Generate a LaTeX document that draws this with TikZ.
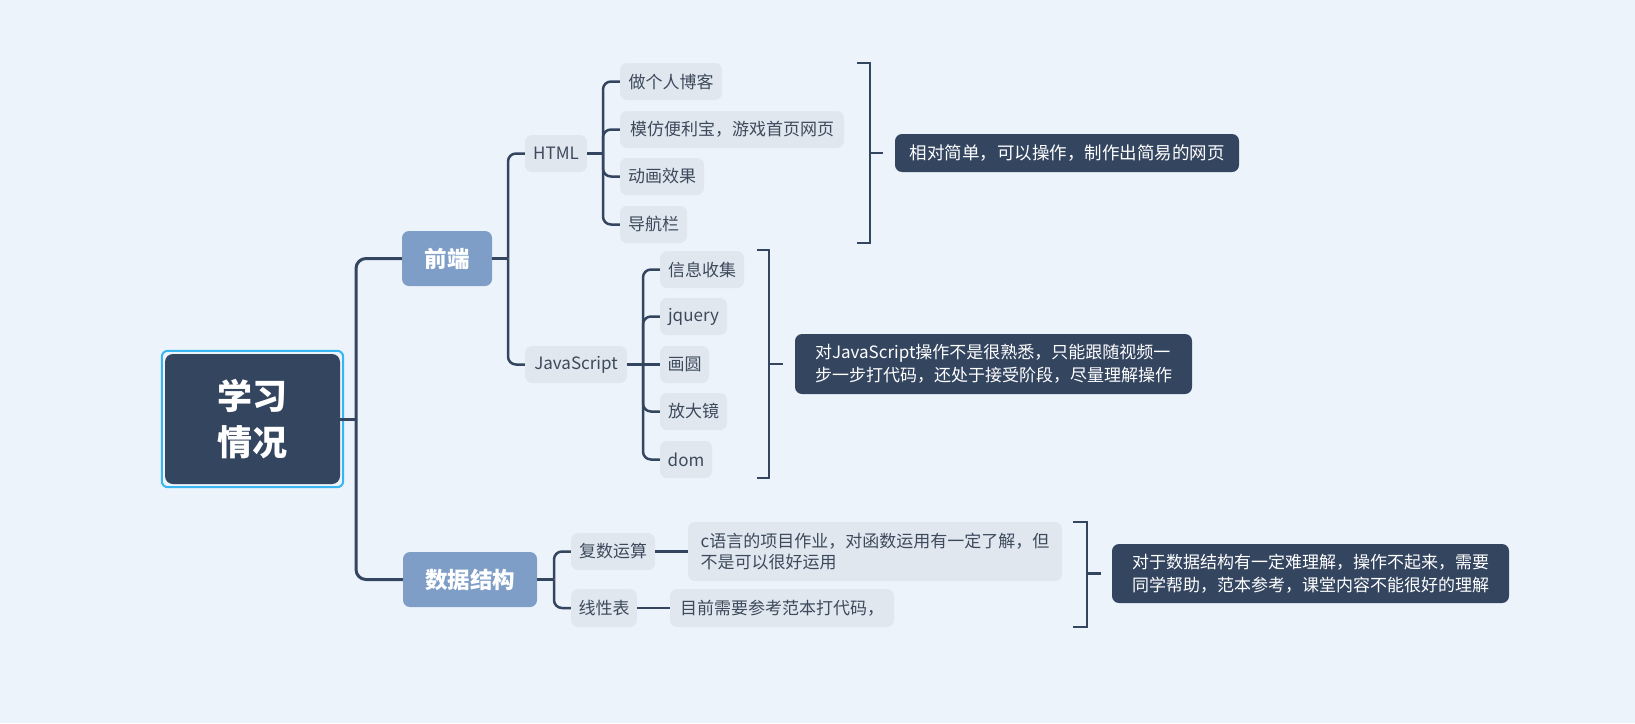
\documentclass[tikz,border=0pt]{standalone}
\usepackage{fontspec}
\setmainfont{Noto Sans CJK SC}
\definecolor{bgc}{HTML}{EDF3FA}
\definecolor{dark}{HTML}{344560}
\definecolor{mainbg}{HTML}{7F9EC7}
\definecolor{leafbg}{HTML}{E1E7EF}
\definecolor{leaftext}{HTML}{3D4A5C}
\definecolor{rootblue}{HTML}{38B6F2}
\begin{document}
\begin{tikzpicture}[x=1pt,y=-1pt,
  box/.style={inner sep=0pt, rounded corners=7pt, align=center},
  leaf/.style={box, fill=leafbg, text=leaftext, minimum height=37pt, font=\fontsize{17}{21}\selectfont},
  mainbr/.style={box, fill=mainbg, text=white, minimum height=55pt, font=\fontsize{22.5}{26}\selectfont\bfseries},
  summ/.style={box, fill=dark, text=white, font=\fontsize{17}{23}\selectfont, align=left},
  conn/.style={draw=dark, line width=2.5pt, rounded corners=8pt},
  trunk/.style={draw=dark, line width=3pt, rounded corners=10pt},
  brk/.style={draw=dark, line width=2.5pt},
]
\fill[bgc] (0,0) rectangle (1635,723);
\useasboundingbox (0,0) rectangle (1635,723);

% root
\node[box, fill=dark, text=white, rounded corners=8pt, minimum width=175pt, minimum height=130pt, font=\fontsize{35}{46}\selectfont\bfseries] (root) at (252.5,419) {学习\\情况};
\draw[draw=rootblue, line width=2pt, rounded corners=6pt] ([shift={(-3,-3)}]root.north west) rectangle ([shift={(3,3)}]root.south east);

% main branches
\node[mainbr, minimum width=90pt] (qd) at (447,258.5) {前端};
\node[mainbr, minimum width=134pt] (sj) at (470,579.5) {数据结构};

% second level
\node[leaf, minimum width=62pt] (html) at (556,153.5) {HTML};
\node[leaf, minimum width=102pt] (js) at (576,364.5) {JavaScript};
\node[leaf, minimum width=84pt] (f1) at (613,551.5) {复数运算};
\node[leaf, minimum width=66pt, minimum height=38pt] (f2) at (604,608) {线性表};

% HTML leaves
\node[leaf, minimum width=102pt] (l1) at (671,81.5) {做个人博客};
\node[leaf, minimum width=224pt] (l2) at (732,129.5) {模仿便利宝，游戏首页网页};
\node[leaf, minimum width=84pt] (l3) at (662,176.5) {动画效果};
\node[leaf, minimum width=67pt] (l4) at (653.5,224.5) {导航栏};

% JS leaves
\node[leaf, minimum width=84pt] (j1) at (702,269.5) {信息收集};
\node[leaf, minimum width=67pt] (j2) at (693.5,316.5) {jquery};
\node[leaf, minimum width=49pt] (j3) at (684.5,364.5) {画圆};
\node[leaf, minimum width=67pt] (j4) at (693.5,411.5) {放大镜};
\node[leaf, minimum width=52pt] (j5) at (686,459.5) {dom};

% data structure leaves
\node[leaf, align=left, minimum width=374pt, minimum height=59pt] (c1) at (875,551.5) {c语言的项目作业，对函数运用有一定了解，但\\不是可以很好运用};
\node[leaf, minimum width=224pt, minimum height=38pt] (c2) at (782,608) {目前需要参考范本打代码，};

% summaries
\node[summ, minimum width=344pt, minimum height=38pt, font=\fontsize{17.5}{23}\selectfont] (s1) at (1067,153) {相对简单，可以操作，制作出简易的网页};
\node[summ, minimum width=397pt, minimum height=60pt] (s2) at (993.5,364) {对JavaScript操作不是很熟悉，只能跟随视频一\\步一步打代码，还处于接受阶段，尽量理解操作};
\node[summ, minimum width=397pt, minimum height=59pt] (s3) at (1310.5,573.5) {对于数据结构有一定难理解，操作不起来，需要\\同学帮助，范本参考，课堂内容不能很好的理解};

% trunk
\coordinate (t0) at (356,419);
\draw[trunk] (root.east) -- (t0);
\draw[trunk] (t0) |- (qd.west);
\draw[trunk] (t0) |- (sj.west);

% 前端 branch
\coordinate (t1) at (508,258.5);
\draw[conn] (qd.east) -- (t1);
\draw[conn] (t1) |- (html.west);
\draw[conn] (t1) |- (js.west);

% HTML branch
\coordinate (t2) at (603,153.5);
\draw[conn] (html.east) -- (t2);
\foreach \n in {l1,l2,l3,l4} \draw[conn] (t2) |- (\n.west);

% JS branch
\coordinate (t3) at (643,364.5);
\draw[conn] (js.east) -- (t3);
\foreach \n in {j1,j2,j4,j5} \draw[conn] (t3) |- (\n.west);
\draw[conn] (t3) -- (j3.west);

% data structure branch
\coordinate (t4) at (554,579.5);
\draw[conn] (sj.east) -- (t4);
\draw[conn] (t4) |- (f1.west);
\draw[conn] (t4) |- (f2.west);
\draw[conn] (f1.east) -- (c1.west);
\draw[conn] (f2.east) -- (c2.west);

% brackets
\coordinate (b1a) at (857,63); \coordinate (b1b) at (870,63);
\coordinate (b1c) at (870,243); \coordinate (b1d) at (857,243);
\coordinate (b1m) at (870,153); \coordinate (b1e) at (883,153);
\draw[brk] (b1a) -- (b1b) -- (b1c) -- (b1d);
\draw[brk] (b1m) -- (b1e);

\coordinate (b2a) at (757,250); \coordinate (b2b) at (769,250);
\coordinate (b2c) at (769,478); \coordinate (b2d) at (757,478);
\coordinate (b2m) at (769,364); \coordinate (b2e) at (783,364);
\draw[brk] (b2a) -- (b2b) -- (b2c) -- (b2d);
\draw[brk] (b2m) -- (b2e);

\coordinate (b3a) at (1073,522); \coordinate (b3b) at (1087,522);
\coordinate (b3c) at (1087,627); \coordinate (b3d) at (1073,627);
\coordinate (b3m) at (1087,573.5); \coordinate (b3e) at (1101,573.5);
\draw[brk] (b3a) -- (b3b) -- (b3c) -- (b3d);
\draw[brk] (b3m) -- (b3e);
\end{tikzpicture}
\end{document}
